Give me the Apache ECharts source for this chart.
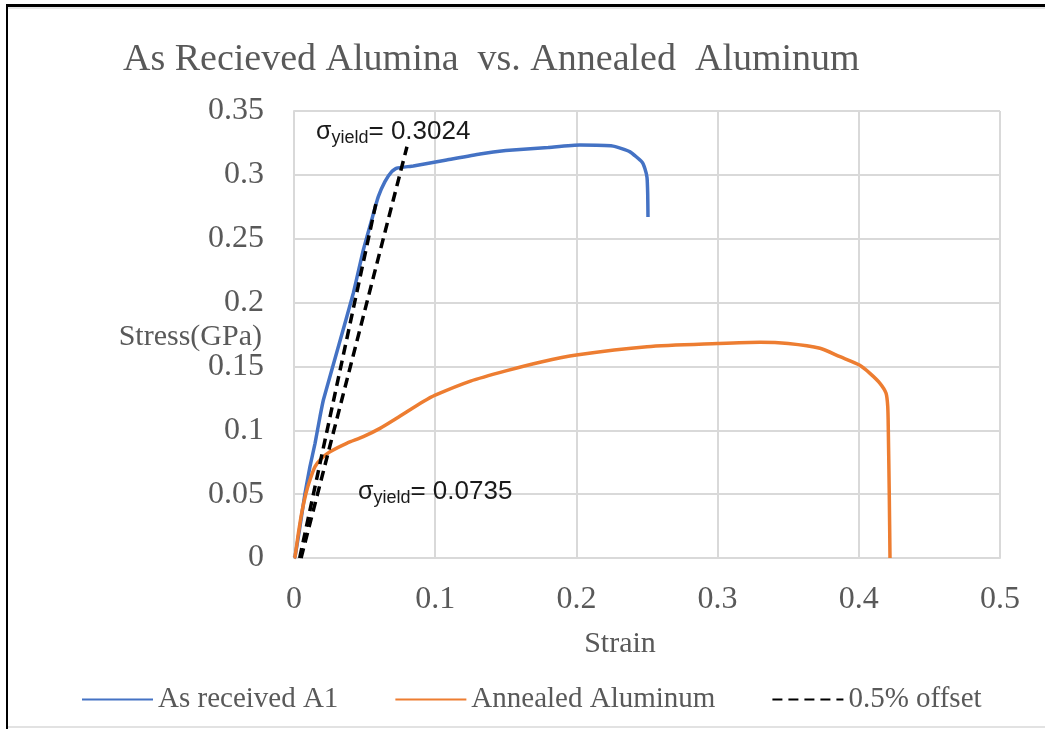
<!DOCTYPE html>
<html>
<head>
<meta charset="utf-8">
<script src="https://cdn.jsdelivr.net/npm/echarts@6/dist/echarts.min.js"></script>
<style>
html,body{margin:0;padding:0;background:#fff;}
#chart{position:absolute;left:0;top:0;width:1045px;height:729px;}
.b{position:absolute;pointer-events:none;}
</style>
</head>
<body>
<div id="chart"></div>
<div class="b" style="left:6px;top:4px;width:1039px;height:3px;background:#000;"></div>
<div class="b" style="left:8px;top:7px;width:1037px;height:2px;background:#e6e6e6;"></div>
<div class="b" style="left:6px;top:4px;width:2px;height:725px;background:#000;"></div>
<div class="b" style="left:8px;top:726px;width:1037px;height:2px;background:#e2e2e2;"></div>
<script>
// ---- data ----
var xTicks = [0, 0.1, 0.2, 0.3, 0.4, 0.5];
var yTicks = [0, 0.05, 0.1, 0.15, 0.2, 0.25, 0.3, 0.35];

var asReceivedStrain = [0, 0.0007, 0.0042, 0.0078, 0.0113, 0.0149, 0.0184, 0.0208, 0.0308, 0.0420, 0.0491, 0.0550, 0.0597, 0.0644, 0.0692, 0.0727, 0.0845, 0.1081, 0.1317, 0.15, 0.18, 0.2025, 0.226, 0.238, 0.2465, 0.2485, 0.25, 0.2505, 0.2507];
var asReceivedStress = [0, 0.001, 0.0245, 0.0507, 0.0715, 0.0898, 0.1106, 0.1237, 0.163, 0.2073, 0.2412, 0.2647, 0.2829, 0.2947, 0.3025, 0.3052, 0.3070, 0.3117, 0.3164, 0.319, 0.3215, 0.3233, 0.3225, 0.318, 0.310, 0.305, 0.298, 0.285, 0.267];

var annealedStrain = [0, 0.0007, 0.0031, 0.0054, 0.0085, 0.0113, 0.0149, 0.0196, 0.0255, 0.0373, 0.0491, 0.0609, 0.0727, 0.0916, 0.1, 0.125, 0.15, 0.175, 0.2, 0.25, 0.3, 0.33, 0.35, 0.3725, 0.3867, 0.4004, 0.4079, 0.4150, 0.4193, 0.4205, 0.4209, 0.4216, 0.4221];
var annealedStress = [0, 0.001, 0.0193, 0.035, 0.0507, 0.0611, 0.0715, 0.0781, 0.0832, 0.0898, 0.095, 0.1015, 0.1094, 0.1225, 0.1275, 0.1385, 0.1465, 0.1535, 0.159, 0.1655, 0.168, 0.169, 0.168, 0.1642, 0.1576, 0.1511, 0.1446, 0.1368, 0.1290, 0.1185, 0.1002, 0.048, 0];

var offsetAStrain = [0.005, 0.080];
var offsetAStress = [0, 0.322];
var offsetBStrain = [0.004, 0.0585];
var offsetBStress = [0, 0.280];

var yieldLabels = ['0.3024', '0.0735'];
var yieldAnchorStrain = [0.0156, 0.0453];
var yieldAnchorStress = [0.3336, 0.0517];

function pairs(xs, ys){ return xs.map(function(x,i){ return [x, ys[i]]; }); }

var gray = '#595959';
var serif = '"Liberation Serif","Times New Roman",serif';
var gridColor = '#d9d9d9';

var chart = echarts.init(document.getElementById('chart'));
var option = {
  backgroundColor: 'transparent',
  animation: false,
  title: {
    text: 'As Recieved Alumina  vs. Annealed  Aluminum',
    left: 118, top: 36,
    textStyle: { fontFamily: serif, fontSize: 38, fontWeight: 'normal', color: gray }
  },
  grid: { left: 294, right: 45, top: 111, bottom: 171 },
  legend: {
    left: 76, top: 680,
    itemWidth: 71, itemHeight: 4, itemGap: 56,
    itemStyle: { opacity: 0 },
    textStyle: { fontFamily: serif, fontSize: 29, color: gray },
    data: ['As received A1', 'Annealed Aluminum', '0.5% offset']
  },
  xAxis: {
    type: 'value', min: 0, max: 0.5, interval: 0.1,
    name: 'Strain', nameLocation: 'middle', nameGap: 71,
    nameTextStyle: { fontFamily: serif, fontSize: 30, color: gray, padding: [0, 54, 0, 0] },
    axisLine: { show: true, lineStyle: { color: gridColor, width: 2 } },
    axisTick: { show: false },
    axisLabel: { margin: 26, fontFamily: serif, fontSize: 32, color: gray,
      formatter: function(v){ return String(+v.toFixed(2)); } },
    splitLine: { show: true, lineStyle: { color: gridColor, width: 2 } }
  },
  yAxis: {
    type: 'value', min: 0, max: 0.35, interval: 0.05,
    axisLine: { show: true, lineStyle: { color: gridColor, width: 2 } },
    axisTick: { show: false },
    axisLabel: { margin: 30, fontFamily: serif, fontSize: 32, color: gray,
      formatter: function(v){ return String(+v.toFixed(2)); } },
    splitLine: { show: true, lineStyle: { color: gridColor, width: 2 } }
  },
  series: [
    { name: 'As received A1', type: 'line', symbol: 'none', showSymbol: false, smooth: 0.15,
      data: pairs(asReceivedStrain, asReceivedStress),
      lineStyle: { color: '#4472C4', width: 3.5 }, itemStyle: { color: '#4472C4' }, z: 3 },
    { name: 'Annealed Aluminum', type: 'line', symbol: 'none', showSymbol: false, smooth: 0.25,
      data: pairs(annealedStrain, annealedStress),
      lineStyle: { color: '#ED7D31', width: 3.5 }, itemStyle: { color: '#ED7D31' }, z: 3 },
    { name: '0.5% offset', type: 'line', symbol: 'none', showSymbol: false,
      data: pairs(offsetAStrain, offsetAStress),
      lineStyle: { color: '#000', width: 3.5, type: [10, 6] }, itemStyle: { color: '#000' }, z: 4 },
    { name: '0.5% offset', type: 'line', symbol: 'none', showSymbol: false,
      data: pairs(offsetBStrain, offsetBStress),
      lineStyle: { color: '#000', width: 3.5, type: [10, 6] }, itemStyle: { color: '#000' }, z: 4 }
  ]
};
chart.setOption(option);

var sans = '"Liberation Sans",Arial,sans-serif';
var graphics = yieldLabels.map(function(lbl, i){
  var p = chart.convertToPixel({ gridIndex: 0 }, [yieldAnchorStrain[i], yieldAnchorStress[i]]);
  return {
    type: 'text', x: p[0], y: p[1], z: 10,
    style: {
      text: '{s|σ}{sub|yield}{n|= ' + lbl + '}',
      verticalAlign: 'middle', align: 'left',
      rich: {
        s: { fontFamily: sans, fontSize: 25, lineHeight: 30, verticalAlign: 'middle', fill: '#1a1a1a' },
        sub: { fontFamily: sans, fontSize: 18, lineHeight: 20, verticalAlign: 'bottom', fill: '#1a1a1a' },
        n: { fontFamily: sans, fontSize: 26, lineHeight: 30, verticalAlign: 'middle', fill: '#1a1a1a' }
      }
    }
  };
});
graphics.push({
  type: 'text', x: 262, y: 337, z: 10,
  style: { text: 'Stress(GPa)', align: 'right', verticalAlign: 'middle',
    fontFamily: serif, fontSize: 30, fill: gray }
});
chart.setOption({ graphic: graphics });
</script>
</body>
</html>
